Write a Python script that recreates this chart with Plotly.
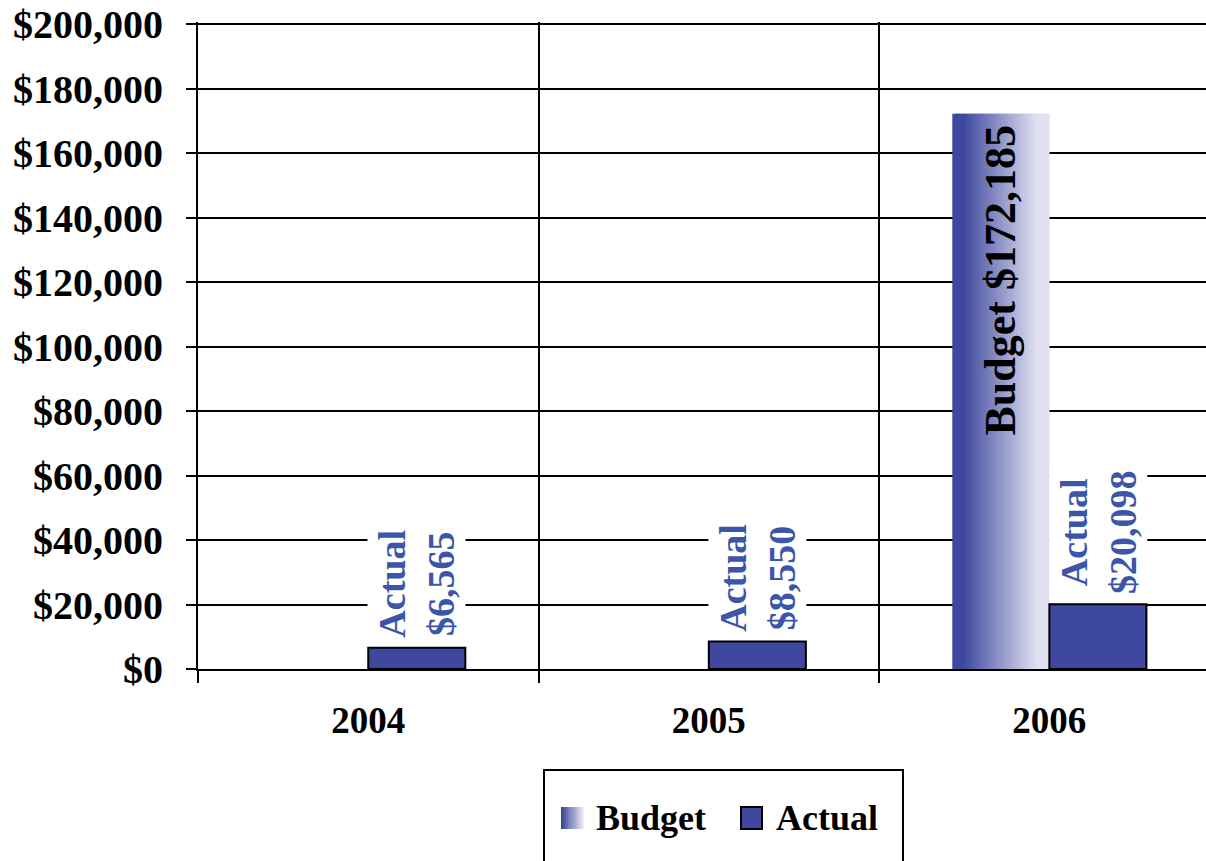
import plotly.graph_objects as go

# ---- data ----
years = ["2004", "2005", "2006"]
budget = [None, None, 172185]
actual = [6565, 8550, 20098]
y_ticks = list(range(0, 200001, 20000))

# ---- style ----
FONT = "Liberation Serif"
BAR_W = 0.285
DARK = (61, 72, 158)
LIGHT = (224, 224, 240)
LABEL_BLUE = "rgb(59,86,168)"


def grad(f):
    f = min(max(f, 0.0), 1.0)
    return "rgb(%d,%d,%d)" % tuple(round(DARK[k] + (LIGHT[k] - DARK[k]) * f) for k in range(3))


fig = go.Figure()

# Budget bar with horizontal gradient (drawn as thin overlapping slices of the same bar)
n = 40
for i in range(n):
    t = (i + 0.5) / n
    f = (t - 0.11) / 0.76
    fig.add_bar(
        x=years, y=budget,
        offset=-BAR_W + i * BAR_W / n,
        width=BAR_W / n * 2 if i < n - 1 else BAR_W / n,
        marker=dict(color=grad(f), line=dict(width=0)),
        showlegend=False, hoverinfo="skip",
    )

# Actual bars
fig.add_bar(
    x=years, y=actual, offset=0, width=BAR_W,
    marker=dict(color="rgb(61,72,158)", line=dict(color="black", width=2)),
    showlegend=False,
)

annotations = []
# Actual labels
for i, v in enumerate(actual):
    annotations.append(dict(
        x=i + BAR_W / 2, y=v, xref="x", yref="y",
        text=f"<b>Actual<br>${v:,}</b>", textangle=-90,
        showarrow=False, yanchor="bottom", xanchor="center", yshift=6,
        font=dict(family=FONT, size=38, color=LABEL_BLUE),
        bgcolor="white", borderpad=3,
    ))
# Budget label
for i, v in enumerate(budget):
    if v is None:
        continue
    annotations.append(dict(
        x=i - BAR_W / 2, y=v, xref="x", yref="y",
        text=f"<b>Budget ${v:,}</b>", textangle=-90,
        showarrow=False, yanchor="top", xanchor="center", yshift=-10,
        font=dict(family=FONT, size=44, color="black"),
    ))

# Custom legend; pixel helpers relative to the plot area
W, H, L, T = 1008.0, 647.0, 198.0, 22.0
px = lambda x: (x - L) / W
py = lambda y: (T + H - y) / H
shapes = [dict(type="rect", xref="paper", yref="paper",
               x0=px(544), x1=px(903), y0=py(770), y1=py(900),
               line=dict(color="black", width=2), fillcolor="white", layer="above")]
m = 12
for i in range(m):
    x0 = 561 + i * 22 / m
    shapes.append(dict(type="rect", xref="paper", yref="paper",
                       x0=px(x0), x1=px(x0 + 22 / m + 0.5), y0=py(829), y1=py(807),
                       line=dict(width=0), fillcolor=grad((i + 0.5) / m * 1.1 - 0.05), layer="above"))
shapes.append(dict(type="rect", xref="paper", yref="paper",
                   x0=px(741), x1=px(762), y0=py(829), y1=py(807),
                   line=dict(color="black", width=2), fillcolor="rgb(61,72,158)", layer="above"))
annotations.append(dict(x=px(594), y=py(818), xref="paper", yref="paper", text="<b>Budget</b>",
                        showarrow=False, xanchor="left", yanchor="middle",
                        font=dict(family=FONT, size=36, color="black")))
annotations.append(dict(x=px(774), y=py(818), xref="paper", yref="paper", text="<b>Actual</b>",
                        showarrow=False, xanchor="left", yanchor="middle",
                        font=dict(family=FONT, size=36, color="black")))

fig.update_layout(
    width=1206, height=861,
    margin=dict(l=198, r=0, t=22, b=192),
    paper_bgcolor="white", plot_bgcolor="white",
    barmode="overlay",
    showlegend=False,
    annotations=annotations,
    shapes=shapes,
    xaxis=dict(
        type="category", range=[-0.5, 2.46],
        tickson="boundaries", showgrid=True, gridcolor="black", gridwidth=2,
        ticks="outside", ticklen=12, tickwidth=2, tickcolor="black",
        showline=True, linecolor="black", linewidth=2,
        ticklabelstandoff=18,
        tickfont=dict(family=FONT, size=37, color="black", weight="bold"),
    ),
    yaxis=dict(
        range=[0, 200620], tickvals=y_ticks, tickformat="$,",
        showgrid=True, gridcolor="black", gridwidth=2, zeroline=False,
        ticks="outside", ticklen=10, tickwidth=2, tickcolor="black",
        showline=True, linecolor="black", linewidth=2,
        ticklabelstandoff=15, ticklabeloverflow="allow",
        tickfont=dict(family=FONT, size=40, color="black", weight="bold"),
    ),
)

fig.write_html(
    "out.html",
    config={"displayModeBar": False},
    post_script="document.body.style.margin='0';"
                "document.body.style.overflow='hidden';"
                "document.documentElement.style.overflow='hidden';",
)
